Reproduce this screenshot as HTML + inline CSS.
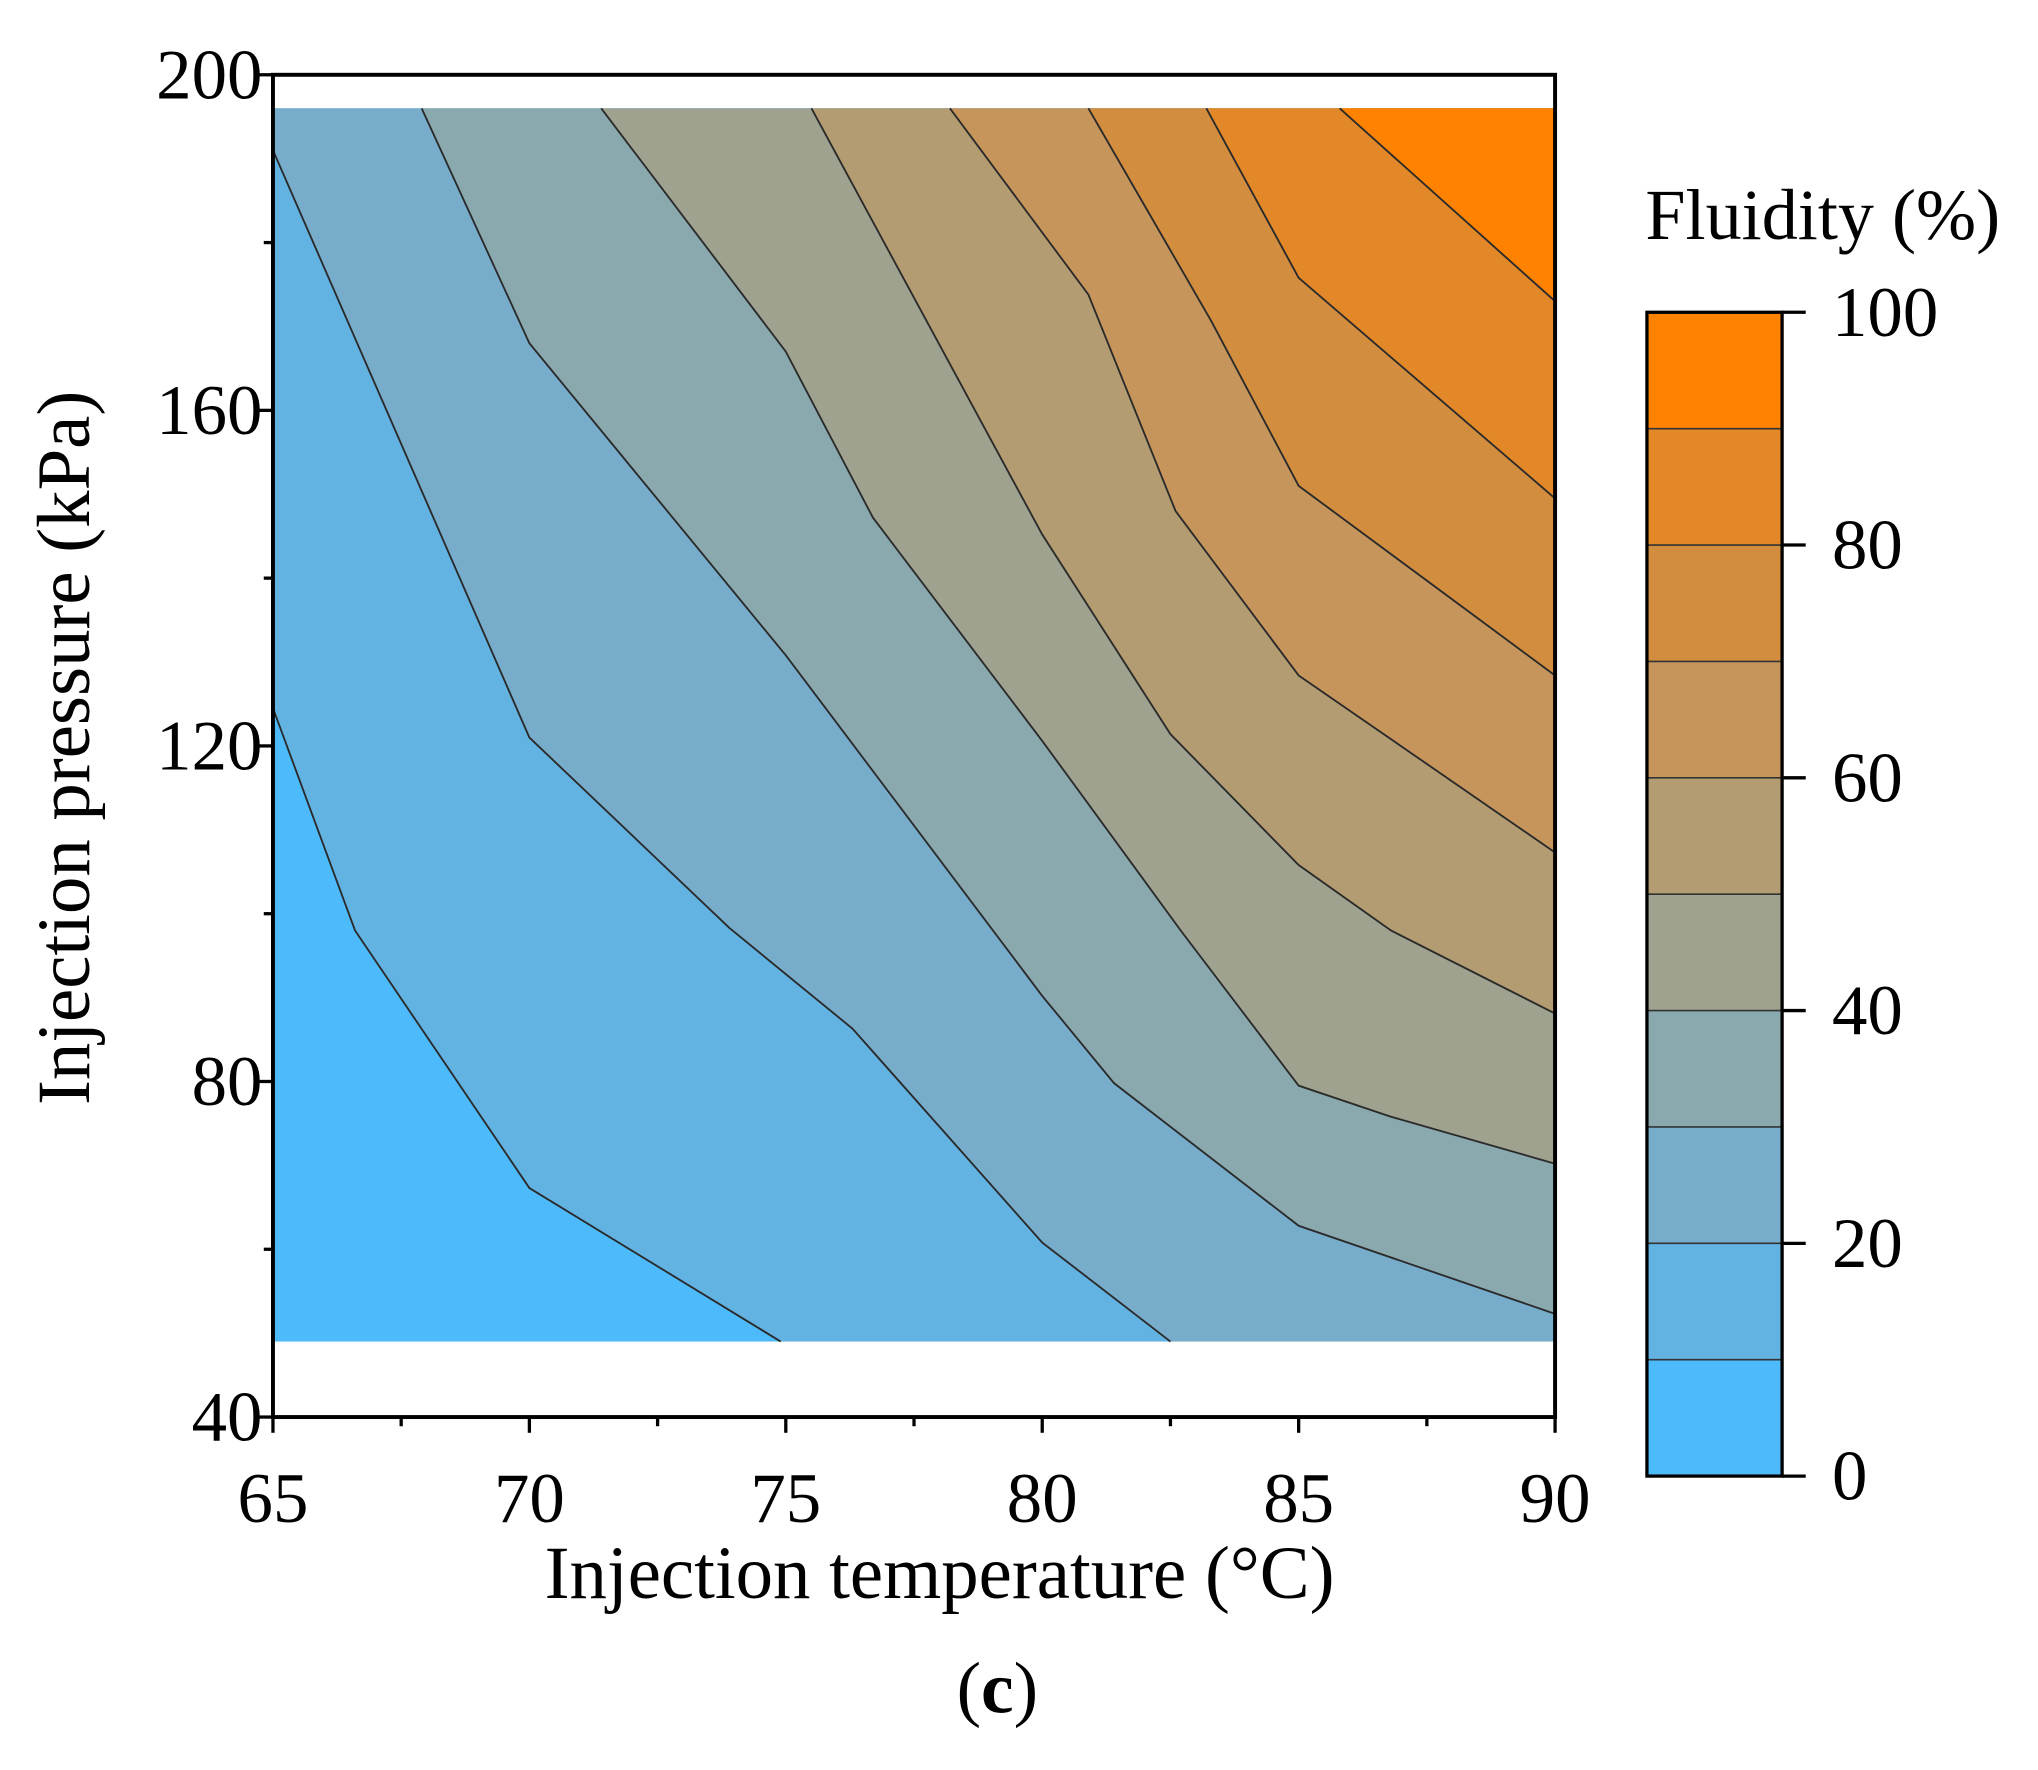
<!DOCTYPE html>
<html><head><meta charset="utf-8"><style>
html,body{margin:0;padding:0;background:#fff;}
svg{display:block;font-family:"Liberation Serif",serif;}
</style></head><body>
<svg id="chart" width="2038" height="1770" viewBox="0 0 1553 1349" preserveAspectRatio="none" xmlns="http://www.w3.org/2000/svg">
<g id="plot"></g>
<g id="axes"></g>
<g id="cbar"></g>
<text x="716" y="1218" font-size="57" text-anchor="middle">Injection temperature (°C)</text>
<text transform="translate(68,570) rotate(-90)" font-size="57" text-anchor="middle">Injection pressure (kPa)</text>
<text x="1389" y="182" font-size="55" text-anchor="middle">Fluidity (%)</text>
<text x="760" y="1305" font-size="56" text-anchor="middle">(<tspan font-weight="bold">c</tspan>)</text>
</svg>
<script>
const levels=[10,20,30,40,50,60,70,80,90];
const colors=["#4DBBFB","#62B2E2","#77ADCB","#8AA9AE","#9EA28F","#B39C71","#C6955B","#D38D3F","#E38828","#FF8200"];
const lineT=[
[65,66.6,70,74.9],
[65,70,73.9,76.3,80,82.5],
[67.9,70,75,80,81.4,85,90],
[71.4,75,76.7,80,82.7,85,86.8,90],
[75.5,80,82.5,85,86.8,90],
[78.2,80.9,82.6,85,90],
[80.9,83.3,85,90],
[83.2,85,90],
[85.8,90]];
const lineP=[
[124.5,98,67.3,49],
[191,121,98.3,86.3,60.8,49],
[196,168,130.8,90.2,79.8,62.8,52.3],
[196,167,147.2,120.6,98,79.5,75.8,70.2],
[196,145.2,121.4,105.8,98,88.1],
[196,173.8,148,128.4,107.3],
[196,170.6,151,128.4],
[196,175.8,149.5],
[196,173]];
const xTicks=[65,70,75,80,85,90];
const yTicks=[40,80,120,160,200];
const cbTicks=[0,20,40,60,80,100];
const dataT=[65,90], dataP=[49,196];
const X=t=>208+(t-65)*(1185-208)/25;
const Y=p=>1080-(p-40)*(1080-57)/160;
const NS="http://www.w3.org/2000/svg";
function mk(tag,attrs,parent){const e=document.createElementNS(NS,tag);for(const k in attrs)e.setAttribute(k,attrs[k]);parent.appendChild(e);return e;}
const plot=document.getElementById('plot'),axes=document.getElementById('axes'),cb=document.getElementById('cbar');
let bg=mk('rect',{x:X(dataT[0]),y:Y(dataP[1]),width:X(dataT[1])-X(dataT[0]),height:Y(dataP[0])-Y(dataP[1]),fill:colors[0]},plot);


levels.forEach((lv,i)=>{
  const T=lineT[i],P=lineP[i];
  const pts=T.map((t,j)=>[t,P[j]]);
  const poly=pts.slice();
  const last=pts[pts.length-1];
  if(last[0]<dataT[1]) poly.push([dataT[1],dataP[0]]);
  poly.push([dataT[1],dataP[1]]);
  if(pts[0][0]<=dataT[0]) poly.push([dataT[0],dataP[1]]);
  const band=mk('polygon',{points:poly.map(q=>X(q[0])+','+Y(q[1])).join(' '),fill:colors[i+1]},plot);
  
  
});
levels.forEach((lv,i)=>{
  const T=lineT[i],P=lineP[i];
  const l=mk('polyline',{points:T.map((t,j)=>X(t)+','+Y(P[j])).join(' '),fill:'none',stroke:'#2a2a2a','stroke-width':1.4},plot);
  
  
});
const fr=mk('rect',{x:208,y:57,width:977,height:1023,fill:'none',stroke:'#000','stroke-width':3},axes);


for(let t=65;t<=90.01;t+=2.5){const maj=Math.abs(t%5)<0.01;mk('line',{x1:X(t),x2:X(t),y1:1080,y2:1080+(maj?12:7),stroke:'#000','stroke-width':2.5},axes);}
for(let p=40;p<=200.01;p+=20){const maj=p%40===0;mk('line',{x1:208,x2:208-(maj?12:7),y1:Y(p),y2:Y(p),stroke:'#000','stroke-width':2.5},axes);}
xTicks.forEach(t=>{const e=mk('text',{x:X(t),y:1160,'font-size':54,'text-anchor':'middle'},axes);e.textContent=t;

});
yTicks.forEach(p=>{const e=mk('text',{x:200,y:Y(p)+18,'font-size':54,'text-anchor':'end'},axes);e.textContent=p;

});
const cx=1255,cw=103,cy0=1125,cy1=238;
const CY=v=>cy0-(v/100)*(cy0-cy1);
colors.forEach((c,i)=>{const r=mk('rect',{x:cx,y:CY((i+1)*10),width:cw,height:CY(i*10)-CY((i+1)*10),fill:c},cb);


if(i>0)mk('line',{x1:cx,x2:cx+cw,y1:CY(i*10),y2:CY(i*10),stroke:'#333','stroke-width':1.2},cb);});
mk('rect',{x:cx,y:cy1,width:cw,height:cy0-cy1,fill:'none',stroke:'#000','stroke-width':2.5},cb);
cbTicks.forEach(v=>{mk('line',{x1:cx+cw,x2:cx+cw+18,y1:CY(v),y2:CY(v),stroke:'#000','stroke-width':2.5},cb);
const e=mk('text',{x:1396,y:CY(v)+18,'font-size':54},cb);e.textContent=v;

});
</script>
</body></html>
